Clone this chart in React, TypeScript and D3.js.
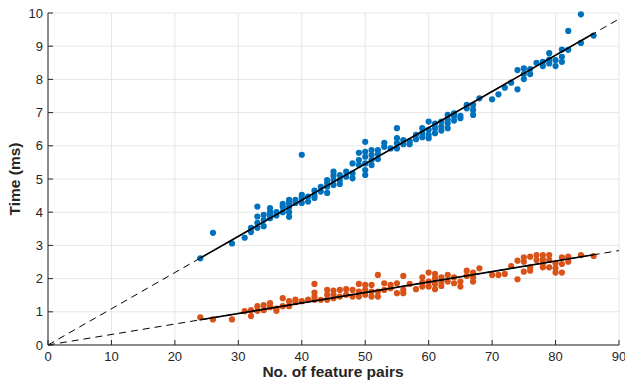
import React from "react";
import * as d3 from "d3";

const blueX = [24,26,29,31,32,32,33,33,33,33,34,34,34,35,35,35,35,36,36,37,37,37,38,38,38,38,38,39,39,40,40,40,40,41,41,42,42,42,43,43,44,44,44,44,45,45,45,45,46,46,46,47,47,48,48,48,49,49,49,50,50,50,50,50,50,51,51,51,51,52,52,52,53,53,54,55,55,55,55,56,56,57,57,58,58,59,59,59,60,60,60,60,61,61,61,62,62,62,63,63,63,63,64,64,64,65,65,66,66,67,67,67,68,70,71,72,73,74,74,75,75,75,76,76,77,78,78,79,79,79,80,80,81,81,81,82,82,84,84,86];
const blueY = [2.61,3.38,3.06,3.23,3.53,3.4,4.17,3.87,3.68,3.53,3.92,3.77,3.58,4.12,4.0,3.92,3.82,4.0,3.9,4.25,4.16,4.0,4.37,4.28,4.16,4.0,3.86,4.37,4.28,5.73,4.52,4.43,4.28,4.47,4.32,4.65,4.52,4.43,4.76,4.62,4.97,4.88,4.77,4.58,5.22,5.1,4.97,4.82,5.12,4.97,4.85,5.22,5.07,5.47,5.17,5.02,5.79,5.57,5.42,6.12,5.82,5.67,5.47,5.27,5.12,5.87,5.72,5.57,5.42,5.87,5.75,5.6,6.09,5.97,5.92,6.53,6.23,6.08,5.92,6.17,6.05,6.14,6.05,6.33,6.2,6.53,6.38,6.26,6.73,6.48,6.33,6.23,6.67,6.53,6.38,6.73,6.58,6.46,6.93,6.8,6.68,6.53,6.98,6.9,6.76,6.9,6.83,7.23,7.13,7.23,7.08,6.93,7.43,7.4,7.55,7.75,7.9,8.28,7.7,8.33,8.16,8.01,8.31,8.16,8.5,8.53,8.4,8.79,8.6,8.48,8.58,8.4,8.9,8.68,8.53,9.46,8.89,9.96,9.1,9.32];

const orangeX = [24,26,29,31,32,32,33,33,34,34,35,35,36,36,37,37,38,38,39,39,40,41,42,42,42,42,43,44,44,44,45,45,45,46,46,47,47,48,48,49,49,49,50,50,50,51,51,51,52,52,52,53,53,54,54,55,55,56,56,56,57,58,59,59,59,60,60,60,61,61,61,61,62,62,62,63,63,64,64,65,65,66,66,67,67,67,68,70,71,72,73,74,74,75,75,75,76,76,76,77,77,78,78,78,78,79,79,79,80,80,80,81,81,81,82,82,84,86];
const orangeY = [0.83,0.77,0.77,1.02,1.05,0.87,1.17,1.03,1.2,1.05,1.26,1.14,1.1,1.03,1.41,1.17,1.32,1.17,1.37,1.29,1.32,1.37,1.84,1.58,1.46,1.36,1.36,1.66,1.51,1.36,1.64,1.51,1.41,1.66,1.46,1.68,1.51,1.66,1.46,1.84,1.61,1.46,1.81,1.66,1.51,1.81,1.61,1.46,2.11,1.61,1.46,1.86,1.66,1.81,1.71,1.86,1.56,2.08,1.66,1.56,1.84,1.68,2.04,1.88,1.76,2.18,1.91,1.76,2.14,2.01,1.84,1.68,2.04,1.91,1.78,2.11,1.91,2.04,1.86,1.91,1.76,2.24,2.08,2.18,2.04,1.91,2.31,2.11,2.11,2.14,2.38,2.54,1.98,2.64,2.51,2.21,2.66,2.34,2.24,2.71,2.56,2.71,2.58,2.46,2.34,2.71,2.56,2.34,2.46,2.31,2.18,2.64,2.44,2.18,2.66,2.51,2.71,2.68];

const xTicks = [0,10,20,30,40,50,60,70,80,90];
const yTicks = [0,1,2,3,4,5,6,7,8,9,10];
const blueSlope = 0.1091;
const orangeSlope = 0.0316;
const fitRange = [24, 86];
const extRange = [0, 90];

const W = 625, H = 381;
const M = { left: 48, right: 6, top: 13, bottom: 36 };

export default function App() {
  const x = d3.scaleLinear().domain([0, 90]).range([M.left, W - M.right]);
  const y = d3.scaleLinear().domain([0, 10]).range([H - M.bottom, M.top]);
  const line = d3.line<number[]>().x(d => x(d[0])).y(d => y(d[1]));
  const fit = (s: number, r: number[]) => line(r.map(v => [v, v * s]));
  const font = "'Liberation Sans', Arial, Helvetica, sans-serif";
  const tickColor = "#262626";
  return (
    <svg width={W} height={H} style={{ position: "absolute", left: 0, top: 0, background: "#fff" }} fontFamily={font}>
      <rect width={W} height={H} fill="#fff" />
      {xTicks.map(t => (
        <line key={"gx" + t} x1={x(t)} x2={x(t)} y1={y(0)} y2={y(10)} stroke="#e6e6e6" strokeWidth={1} />
      ))}
      {yTicks.map(t => (
        <line key={"gy" + t} x1={x(0)} x2={x(90)} y1={y(t)} y2={y(t)} stroke="#e6e6e6" strokeWidth={1} />
      ))}
      {blueX.map((v, i) => (
        <circle key={"b" + i} cx={x(v)} cy={y(blueY[i])} r={3.1} fill="#0072BD" />
      ))}
      {orangeX.map((v, i) => (
        <circle key={"o" + i} cx={x(v)} cy={y(orangeY[i])} r={3.1} fill="#D95319" />
      ))}
      <path d={fit(blueSlope, extRange) || ""} stroke="#000" strokeWidth={1} strokeDasharray="7,5" fill="none" />
      <path d={fit(orangeSlope, extRange) || ""} stroke="#000" strokeWidth={1} strokeDasharray="7,5" fill="none" />
      <path d={fit(blueSlope, fitRange) || ""} stroke="#000" strokeWidth={1.6} fill="none" />
      <path d={fit(orangeSlope, fitRange) || ""} stroke="#000" strokeWidth={1.6} fill="none" />
      <line x1={x(0)} x2={x(90)} y1={y(0)} y2={y(0)} stroke={tickColor} strokeWidth={1} />
      <line x1={x(0)} x2={x(0)} y1={y(0)} y2={y(10)} stroke={tickColor} strokeWidth={1} />
      {xTicks.map(t => (
        <g key={"xt" + t}>
          <line x1={x(t)} x2={x(t)} y1={y(0)} y2={y(0) - 5} stroke={tickColor} />
          <text x={x(t)} y={y(0) + 16} textAnchor="middle" fontSize={13} fill={tickColor}>{t}</text>
        </g>
      ))}
      {yTicks.map(t => (
        <g key={"yt" + t}>
          <line x1={x(0)} x2={x(0) + 5} y1={y(t)} y2={y(t)} stroke={tickColor} />
          <text x={x(0) - 5} y={y(t) + 4.5} textAnchor="end" fontSize={13} fill={tickColor}>{t}</text>
        </g>
      ))}
      <text x={333} y={377} textAnchor="middle" fontSize={15.5} fontWeight="bold" fill={tickColor}>No. of feature pairs</text>
      <text transform={`translate(20,${(y(0) + y(10)) / 2}) rotate(-90)`} textAnchor="middle" fontSize={15.5} fontWeight="bold" fill={tickColor}>Time (ms)</text>
    </svg>
  );
}
